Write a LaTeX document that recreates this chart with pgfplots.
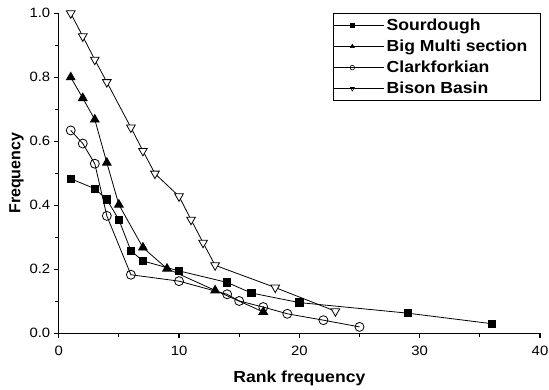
\documentclass[border=0pt]{standalone}
\usepackage{fontspec}
\setmainfont{Liberation Sans}[FakeStretch=1.1]
\newfontfamily\ylabfont{Liberation Sans}
\usepackage{pgfplots}
\pgfplotsset{compat=1.18}
\begin{document}
\begin{tikzpicture}[x=1pt,y=1pt]
\path[use as bounding box] (-58.7,-56) rectangle (490.3,333.3);
\begin{axis}[
  at={(0,0)}, anchor=origin,
  scale only axis, width=481.3pt, height=320pt,
  xmin=0, xmax=40, ymin=0, ymax=1,
  axis lines=left, axis line style={-, line width=1.3pt},
  xtick={0,10,20,30,40}, minor xtick={5,15,25,35},
  ytick={0,0.2,0.4,0.6,0.8,1.0}, minor ytick={0.1,0.3,0.5,0.7,0.9},
  tick style={black, line width=1.1pt},
  major tick length=5pt, minor tick length=4pt,
  tick align=outside,
  minor tick style={black, line width=1.1pt},
  yticklabel style={/pgf/number format/.cd, fixed, fixed zerofill, precision=1},
  /pgf/number format/assume math mode=true,
  ticklabel style={font=\fontsize{13.5}{15}\selectfont},
  xticklabel style={yshift=-4pt},
  xlabel={\textbf{Rank frequency}},
  ylabel={\ylabfont\bfseries Frequency},
  label style={font=\fontsize{16}{18}\selectfont},
  xlabel style={yshift=-9pt},
  ylabel style={yshift=-1pt},
  clip=false,
  legend style={at={(1,1)}, anchor=north east, xshift=1pt, yshift=0pt,
    draw=black, line width=1.1pt, font=\fontsize{16}{19}\selectfont\bfseries,
    inner xsep=1pt, inner ysep=3pt, row sep=4pt, cells={anchor=west}},
  legend image code/.code={\draw[mark repeat=2,mark phase=2,#1] plot coordinates {(0pt,0pt) (18pt,0pt) (36pt,0pt)};\path (0pt,0pt) -- (50pt,0pt);},
  legend image post style={line width=0.6pt, mark size=2.3pt},
  every axis plot/.append style={line width=0.8pt, black},
]
\addplot[mark=square*, mark size=3.7pt, mark options={fill=black}] coordinates {
 (1,0.483) (3,0.452) (4,0.418) (5,0.355) (6,0.258) (7,0.226) (10,0.195)
 (14,0.159) (16,0.126) (20,0.096) (29,0.063) (36,0.030)};
\addlegendentry{Sourdough\hspace*{10pt}}
\addplot[mark=triangle*, mark size=5pt, mark options={fill=black}] coordinates {
 (1,0.80) (2,0.735) (3,0.668) (4,0.533) (5,0.402) (7,0.268) (9,0.202)
 (13,0.134) (17,0.067)};
\addlegendentry{Big Multi section\hspace*{10pt}}
\addplot[mark=o, mark size=4.5pt, mark options={fill=white}] coordinates {
 (1,0.634) (2,0.593) (3,0.530) (4,0.367) (6,0.183) (10,0.163) (14,0.122)
 (15,0.101) (17,0.082) (19,0.061) (22,0.041) (25,0.020)};
\addlegendentry{Clarkforkian\hspace*{10pt}}
\addplot[mark=triangle*, mark size=5pt, mark options={fill=white, rotate=180}] coordinates {
 (1,1.0) (2,0.928) (3,0.855) (4,0.785) (6,0.643) (7,0.57) (8,0.499)
 (10,0.428) (11,0.355) (12,0.283) (13,0.2125) (18,0.143) (23,0.069)};
\addlegendentry{Bison Basin\hspace*{10pt}}
\end{axis}
\end{tikzpicture}
\end{document}
